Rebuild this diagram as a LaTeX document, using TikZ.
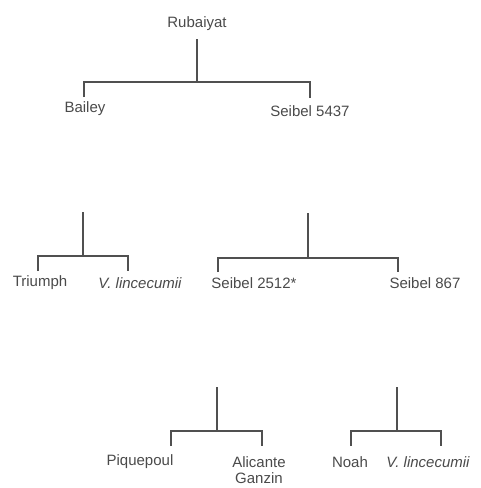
\documentclass[tikz,border=0pt]{standalone}
\usepackage{fontspec}
\setmainfont{Liberation Sans}
\definecolor{labelgray}{HTML}{4A4A4A}
\definecolor{linegray}{HTML}{505050}
\begin{document}
\begin{tikzpicture}[x=1pt,y=-1pt,
  lbl/.style={font=\fontsize{15}{16.5}\selectfont, text=labelgray, inner sep=0pt, align=center},
  link/.style={draw=linegray, line width=1.8pt, line join=miter}]
\useasboundingbox (0,0) rectangle (480,488);
% labels
\node[lbl] (rub) at (197,24) {Rubaiyat};
\node[lbl] (bailey) at (85,109) {Bailey};
\node[lbl] (s5437) at (310,111) {Seibel 5437};
\node[lbl] (triumph) at (40,283) {Triumph};
\node[lbl] (vl1) at (140,283) {\itshape V. lincecumii};
\node[lbl] (s2512) at (254,283) {Seibel 2512*};
\node[lbl] (s867) at (425,283) {Seibel 867};
\node[lbl] (piq) at (140,462) {Piquepoul};
\node[lbl] (alic) at (259,470) {Alicante\\Ganzin};
\node[lbl] (noah) at (350,462) {Noah};
\node[lbl] (vl2) at (428,462) {\itshape V. lincecumii};
% junction coordinates
\coordinate (t1) at (197,39);  \coordinate (j1) at (197,82);
\coordinate (a1) at (84,82);   \coordinate (a1e) at (84,97);
\coordinate (b1) at (310,82);  \coordinate (b1e) at (310,98);
\coordinate (t2) at (83,212);  \coordinate (j2) at (83,256);
\coordinate (a2) at (38,256);  \coordinate (a2e) at (38,271);
\coordinate (b2) at (128,256); \coordinate (b2e) at (128,271);
\coordinate (t3) at (308,213); \coordinate (j3) at (308,258);
\coordinate (a3) at (218,258); \coordinate (a3e) at (218,272);
\coordinate (b3) at (398,258); \coordinate (b3e) at (398,272);
\coordinate (t4) at (217,387); \coordinate (j4) at (217,431);
\coordinate (a4) at (171,431); \coordinate (a4e) at (171,446);
\coordinate (b4) at (262,431); \coordinate (b4e) at (262,446);
\coordinate (t5) at (397,387); \coordinate (j5) at (397,431);
\coordinate (a5) at (351,431); \coordinate (a5e) at (351,446);
\coordinate (b5) at (441,431); \coordinate (b5e) at (441,446);
% connectors
\foreach \i in {1,...,5}{
  \draw[link] (t\i) -- (j\i);
  \draw[link] (a\i e) -- (a\i) -- (b\i) -- (b\i e);
}
\end{tikzpicture}
\end{document}
